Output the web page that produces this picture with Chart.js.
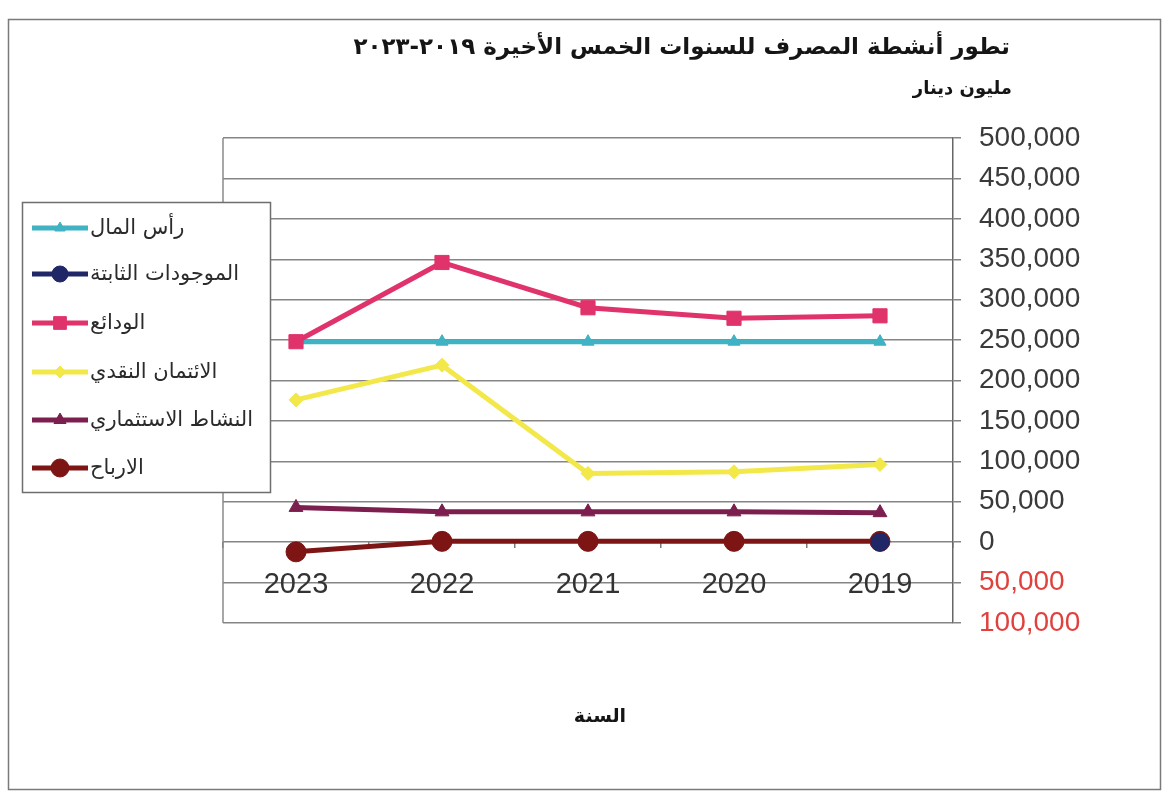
<!DOCTYPE html>
<html lang="ar">
<head>
<meta charset="utf-8">
<title>تطور أنشطة المصرف</title>
<script src="https://cdn.jsdelivr.net/npm/chart.js@4.4.1/dist/chart.umd.min.js"></script>
<style>
  html, body { margin: 0; padding: 0; background: #ffffff; }
  #activity { display: block; }
</style>
</head>
<body>
<canvas id="activity" width="1170" height="793"></canvas>
<script>
// Years run right to left, as in the printed report
const years = ["2023", "2022", "2021", "2020", "2019"];

// Values in million dinars
const capital = [248000, 248000, 248000, 248000, 248000];
const fixedAssets = [null, null, null, null, 0];
const deposits = [248000, 346000, 290000, 277000, 280000];
const cashCredit = [176000, 219000, 85000, 87000, 96000];
const investment = [43000, 37500, 37500, 37500, 36500];
const profits = [-12000, 1000, 1000, 1000, 1000];

const seriesNames = [
  "رأس المال",
  "الموجودات الثابتة",
  "الودائع",
  "الائتمان النقدي",
  "النشاط الاستثماري",
  "الارباح"
];

const chartTitle = "تطور أنشطة المصرف للسنوات الخمس الأخيرة ٢٠١٩-٢٠٢٣";
const unitLabel = "مليون دينار";
const xTitle = "السنة";

const arabicFont = '"DejaVu Sans", sans-serif';
const numberFont = '"Liberation Sans", Arial, sans-serif';

// Build a line dataset with the same colour for line and marker
const makeSeries = (label, data, color, pointStyle, radius, order) => ({
  label: label,
  data: data,
  borderColor: color,
  backgroundColor: color,
  pointBackgroundColor: color,
  pointBorderColor: color,
  borderWidth: 5,
  pointStyle: pointStyle,
  pointRadius: radius,
  pointBorderWidth: 1,
  tension: 0,
  order: order
});

// Lower order is drawn last, so the later series sit on top
const datasets = [
  makeSeries(seriesNames[0], capital, "#3fb3c4", "triangle", 7, 6),
  makeSeries(seriesNames[1], fixedAssets, "#1f2766", "circle", 9, 0),
  makeSeries(seriesNames[2], deposits, "#e0336b", "rect", 10, 4),
  makeSeries(seriesNames[3], cashCredit, "#f3e84a", "rectRot", 7, 3),
  makeSeries(seriesNames[4], investment, "#7c1f4f", "triangle", 8, 2),
  makeSeries(seriesNames[5], profits, "#7d1515", "circle", 10, 1)
];

// Frame, titles and the boxed legend drawn straight on the canvas
const decorations = {
  id: "decorations",
  beforeDraw(chart) {
    const ctx = chart.ctx;
    ctx.save();
    ctx.fillStyle = "#ffffff";
    ctx.fillRect(0, 0, chart.width, chart.height);
    ctx.strokeStyle = "#7a7a7a";
    ctx.lineWidth = 1.5;
    ctx.strokeRect(8.5, 19.5, 1152, 770);
    ctx.restore();
  },
  afterDraw(chart) {
    const ctx = chart.ctx;
    const area = chart.chartArea;
    ctx.save();

    // left edge of the plot
    ctx.strokeStyle = "#8a8a8a";
    ctx.lineWidth = 1.5;
    ctx.beginPath();
    ctx.moveTo(area.left, area.top);
    ctx.lineTo(area.left, area.bottom);
    ctx.stroke();

    ctx.direction = "rtl";
    ctx.fillStyle = "#151515";
    ctx.textBaseline = "middle";
    ctx.textAlign = "right";
    ctx.font = "bold 23px " + arabicFont;
    ctx.fillText(chartTitle, 1010, 48);
    ctx.font = "bold 18px " + arabicFont;
    ctx.fillText(unitLabel, 1012, 89);
    ctx.textAlign = "center";
    ctx.font = "bold 19px " + arabicFont;
    ctx.fillText(xTitle, 600, 717);

    // legend box
    const box = { left: 22, top: 202, width: 248, height: 290 };
    ctx.fillStyle = "#ffffff";
    ctx.fillRect(box.left, box.top, box.width, box.height);
    ctx.strokeStyle = "#6e6e6e";
    ctx.lineWidth = 1.5;
    ctx.strokeRect(box.left + 0.5, box.top + 0.5, box.width, box.height);

    const rows = [228, 274, 323, 372, 420, 468];
    chart.data.datasets.forEach((ds, i) => {
      const y = rows[i];
      ctx.strokeStyle = ds.borderColor;
      ctx.fillStyle = ds.backgroundColor;
      ctx.lineWidth = 5;
      ctx.beginPath();
      ctx.moveTo(32, y);
      ctx.lineTo(88, y);
      ctx.stroke();
      ctx.lineWidth = 1;
      Chart.helpers.drawPoint(ctx, {
        pointStyle: ds.pointStyle,
        radius: ds.pointRadius - 1,
        rotation: 0,
        borderWidth: 1
      }, 60, y);
      ctx.fillStyle = "#2b2b2b";
      ctx.textAlign = "left";
      ctx.font = "21px " + arabicFont;
      ctx.fillText(ds.label, 90, y + 1);
    });

    ctx.restore();
  }
};

const ctx = document.getElementById("activity").getContext("2d");

const activityChart = new Chart(ctx, {
  type: "line",
  data: { labels: years, datasets: datasets },
  plugins: [decorations],
  options: {
    responsive: false,
    devicePixelRatio: 1,
    animation: false,
    layout: { padding: { left: 223, top: 138, right: 0, bottom: 170 } },
    plugins: {
      legend: { display: false },
      title: { display: false },
      tooltip: { enabled: false }
    },
    scales: {
      x: {
        type: "category",
        position: { y: 0 },
        offset: true,
        grid: {
          drawOnChartArea: false,
          drawTicks: true,
          tickLength: 6,
          offset: true,
          color: "#7a7a7a",
          lineWidth: 1.5
        },
        border: { display: false },
        ticks: {
          color: "#333333",
          padding: 19,
          font: { family: numberFont, size: 29 }
        }
      },
      y: {
        type: "linear",
        position: "right",
        min: -100000,
        max: 500000,
        afterFit: (scale) => { scale.width = 217; },
        grid: {
          color: "#858585",
          lineWidth: 1.5,
          tickLength: 8
        },
        border: { display: true, color: "#666666", width: 1.5 },
        ticks: {
          stepSize: 50000,
          padding: 18,
          font: { family: numberFont, size: 28 },
          color: (c) => (c.tick && c.tick.value < 0 ? "#e0413d" : "#3a3a3a"),
          // negatives are printed in red without a sign
          callback: (value) => Math.abs(value).toLocaleString("en-US")
        }
      }
    }
  }
});
</script>
</body>
</html>
